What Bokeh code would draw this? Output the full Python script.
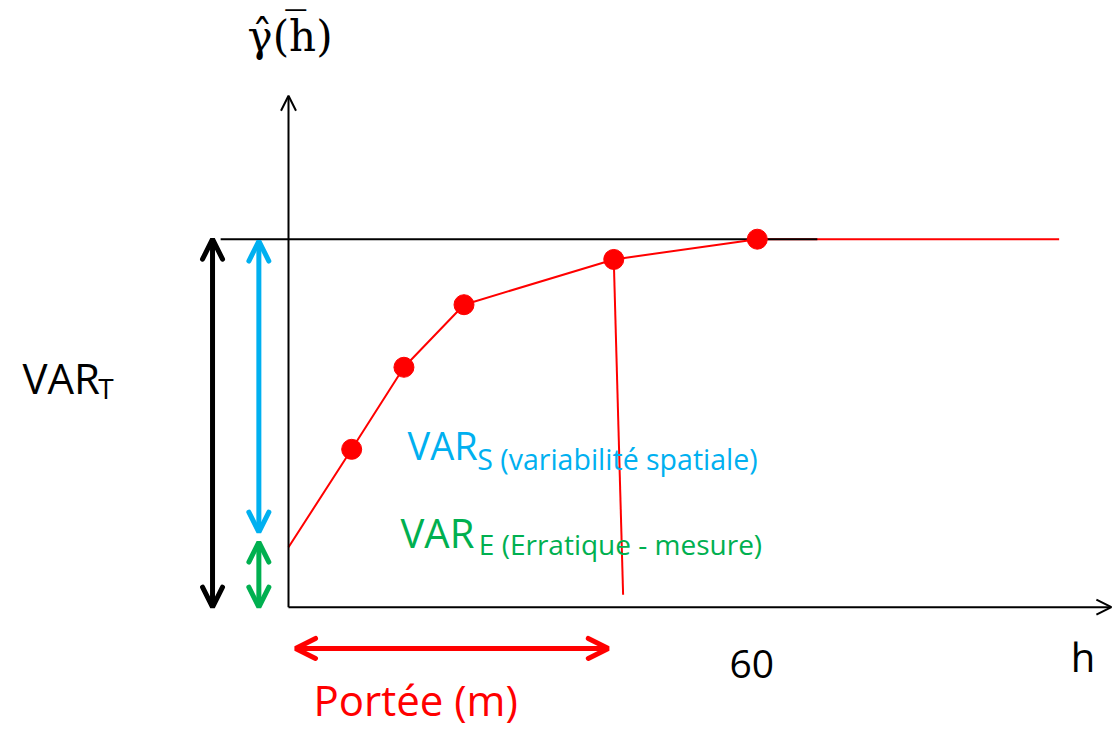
from bokeh.plotting import figure
from bokeh.models import Range1d, Label, Arrow, OpenHead
from bokeh.embed import file_html
from bokeh.resources import INLINE

# ---- data (h in metres, gamma in units of the sill) ----
lag_h = [8.1, 14.8, 22.5, 41.7, 60.1]
gamma_vals = [0.429, 0.652, 0.822, 0.945, 1.0]
nugget = 0.163
sill = 1.0
range_line_h = [41.7, 42.9]
range_line_g = [0.945, 0.034]
plateau_h = [60.1, 98.8]
sill_line_h = [-8.7, 67.8]
tick_value = 60
tick_label = "60"

W, H = 1113, 729
X0_PX, PX_PER_H = 288, 7.8
Y0_PX, PX_PER_G = 606.7, 368.0

p = figure(width=W, height=H, output_backend="svg", toolbar_location=None,
           x_range=Range1d(-X0_PX / PX_PER_H, (W - X0_PX) / PX_PER_H),
           y_range=Range1d(-(H - Y0_PX) / PX_PER_G, Y0_PX / PX_PER_G),
           min_border=0)
p.axis.visible = False
p.grid.visible = False
p.outline_line_color = None
p.background_fill_color = "white"
p.border_fill_color = "white"

RED = "#FF0000"
BLUE = "#00B0F0"
GREEN = "#00B050"
FONT = "Open Sans"

# axes with arrow heads
p.add_layout(Arrow(x_start=0, y_start=0, x_end=0, y_end=1.39, line_width=2, line_color="black",
                   end=OpenHead(size=15, line_width=2, line_color="black")))
p.add_layout(Arrow(x_start=0, y_start=0, x_end=105.5, y_end=0, line_width=2, line_color="black",
                   end=OpenHead(size=15, line_width=2, line_color="black")))

# plateau and sill
p.line(plateau_h, [sill, sill], line_color=RED, line_width=2)
p.line(sill_line_h, [sill, sill], line_color="black", line_width=2)

# variogram curve
p.line([0] + lag_h, [nugget] + gamma_vals, line_color=RED, line_width=2)
p.line(range_line_h, range_line_g, line_color=RED, line_width=2)
p.scatter(lag_h, gamma_vals, size=20, fill_color=RED, line_color=RED)

def dbl_arrow(x0, y0, x1, y1, color, lw=5, size=20):
    p.add_layout(Arrow(x_start=x0, y_start=y0, x_end=x1, y_end=y1, line_width=lw, line_color=color,
                       start=OpenHead(size=size, line_width=lw, line_color=color, line_cap="round"),
                       end=OpenHead(size=size, line_width=lw, line_color=color, line_cap="round")))

dbl_arrow(-9.74, 0.0, -9.74, sill, "black")
dbl_arrow(-3.8, 0.204, -3.8, 0.995, BLUE)
dbl_arrow(-3.8, 0.0, -3.8, 0.177, GREEN)
dbl_arrow(0.9, -0.112, 41.0, -0.112, RED)

DY = 0.041  # baseline correction

def lab(x, y, text, color="black", size=40, font=FONT, align="left", baseline="alphabetic"):
    p.add_layout(Label(x=x, y=y + (DY if baseline == "alphabetic" else 0), text=text,
                       text_color=color, text_font_size=f"{size}px",
                       text_font=font, text_align=align, text_baseline=baseline))

lab(0.2, 1.55, "\u03b3\u0302(h\u0305)", size=42, font="DejaVu Serif", align="center", baseline="middle")
lab(-34.1, 0.584, "VAR", size=42)
lab(-24.4, 0.554, "T", size=28)
lab(15.26, 0.401, "VAR", color=BLUE, size=38)
lab(24.2, 0.363, "S (variabilité spatiale)", color=BLUE, size=28.5)
lab(14.36, 0.162, "VAR", color=GREEN, size=40)
lab(24.4, 0.132, "E (Erratique - mesure)", color=GREEN, size=28)
lab(tick_value - 0.6, -0.194, tick_label, size=39, align="center")
lab(100.3, -0.175, "h", size=40)
lab(3.2, -0.292, "Portée (m)", color=RED, size=42)

open("out.html", "w").write(file_html(p, INLINE))
